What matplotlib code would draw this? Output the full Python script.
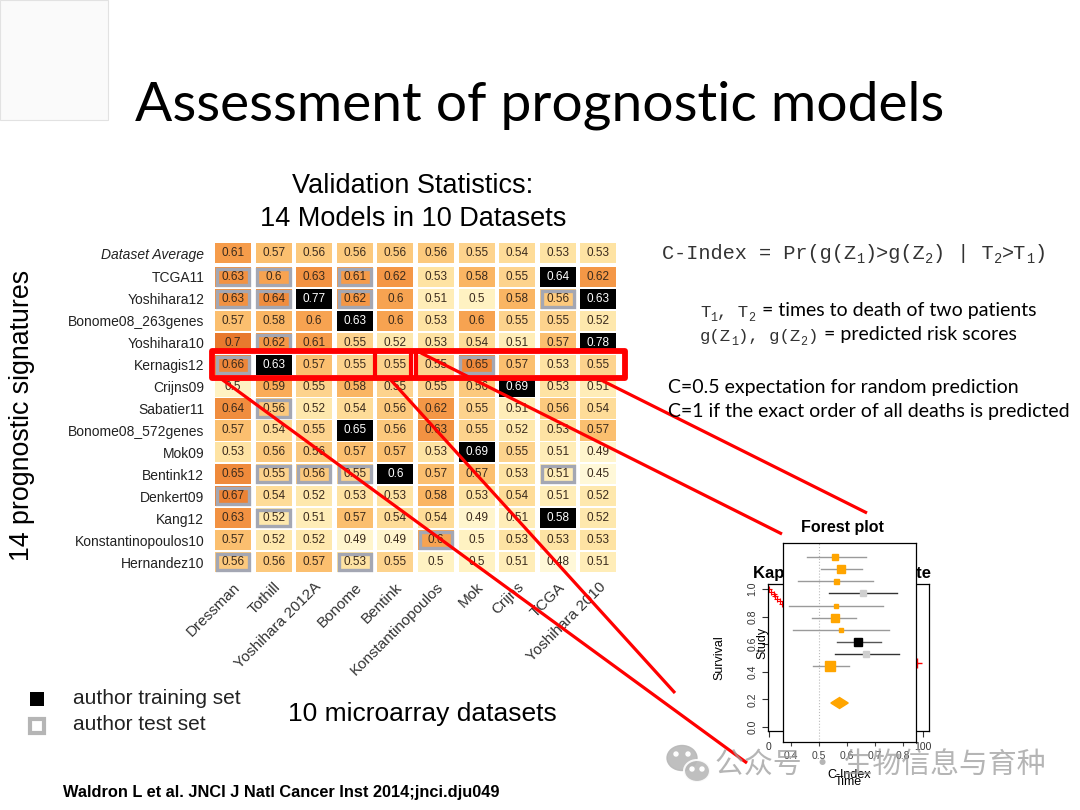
import numpy as np
import matplotlib
matplotlib.use('Agg')
import matplotlib.pyplot as plt
from matplotlib.colors import LinearSegmentedColormap, Normalize
from matplotlib.patches import Rectangle, Polygon, Ellipse

# Tamanho do slide em pixels
W, H = 1080, 810

# Dados do heatmap (colunas = datasets de validacao, linhas = assinaturas)
datasets = ['Dressman', 'Tothill', 'Yoshihara 2012A', 'Bonome', 'Bentink',
            'Konstantinopoulos', 'Mok', 'Crijns', 'TCGA', 'Yoshihara 2010']
signatures = ['TCGA11', 'Yoshihara12', 'Bonome08_263genes', 'Yoshihara10', 'Kernagis12',
              'Crijns09', 'Sabatier11', 'Bonome08_572genes', 'Mok09', 'Bentink12',
              'Denkert09', 'Kang12', 'Konstantinopoulos10', 'Hernandez10']
dataset_average = [0.61, 0.57, 0.56, 0.56, 0.56, 0.56, 0.55, 0.54, 0.53, 0.53]
cindex = [
    [0.63, 0.60, 0.63, 0.61, 0.62, 0.53, 0.58, 0.55, 0.64, 0.62],
    [0.63, 0.64, 0.77, 0.62, 0.60, 0.51, 0.50, 0.58, 0.56, 0.63],
    [0.57, 0.58, 0.60, 0.63, 0.60, 0.53, 0.60, 0.55, 0.55, 0.52],
    [0.70, 0.62, 0.61, 0.55, 0.52, 0.53, 0.54, 0.51, 0.57, 0.78],
    [0.66, 0.63, 0.57, 0.55, 0.55, 0.55, 0.65, 0.57, 0.53, 0.55],
    [0.50, 0.59, 0.55, 0.58, 0.55, 0.55, 0.56, 0.69, 0.53, 0.51],
    [0.64, 0.56, 0.52, 0.54, 0.56, 0.62, 0.55, 0.51, 0.56, 0.54],
    [0.57, 0.54, 0.55, 0.65, 0.56, 0.63, 0.55, 0.52, 0.53, 0.57],
    [0.53, 0.56, 0.56, 0.57, 0.57, 0.53, 0.69, 0.55, 0.51, 0.49],
    [0.65, 0.55, 0.56, 0.55, 0.60, 0.57, 0.57, 0.53, 0.51, 0.45],
    [0.67, 0.54, 0.52, 0.53, 0.53, 0.58, 0.53, 0.54, 0.51, 0.52],
    [0.63, 0.52, 0.51, 0.57, 0.54, 0.54, 0.49, 0.51, 0.58, 0.52],
    [0.57, 0.52, 0.52, 0.49, 0.49, 0.60, 0.50, 0.53, 0.53, 0.53],
    [0.56, 0.56, 0.57, 0.53, 0.55, 0.50, 0.50, 0.51, 0.48, 0.51],
]
# (linha, coluna) das celulas de treino (preto) e teste (borda cinza) dos autores
training_cells = [(0, 8), (1, 2), (1, 9), (2, 3), (3, 9), (4, 1), (5, 7),
                  (7, 3), (8, 6), (9, 4), (11, 8)]
test_cells = [(0, 0), (0, 1), (0, 3), (1, 0), (1, 1), (1, 3), (1, 8), (3, 1),
              (4, 0), (4, 6), (6, 1), (9, 1), (9, 2), (9, 3), (9, 8), (10, 0),
              (11, 1), (12, 5), (13, 0), (13, 3)]

# Dados do forest plot
forest_est = [0.558, 0.579, 0.560, 0.658, 0.561, 0.555, 0.577, 0.640, 0.668, 0.540]
forest_lo = [0.455, 0.505, 0.425, 0.537, 0.393, 0.476, 0.405, 0.563, 0.555, 0.479]
forest_hi = [0.668, 0.654, 0.694, 0.777, 0.727, 0.630, 0.748, 0.721, 0.786, 0.606]
forest_size = [4.5, 6.3, 3.6, 3.8, 2.9, 6.3, 2.7, 5.8, 4.3, 7.2]
forest_kind = ['o', 'o', 'o', 'g', 'o', 'o', 'o', 'k', 'g', 'o']
pooled_est, pooled_lo, pooled_hi = 0.573, 0.542, 0.604

# Curva de Kaplan-Meier (parte visivel)
km_time = [0, 1.5, 3, 4, 5.5, 7, 8.5]
km_surv = [1.0, 0.98, 0.96, 0.95, 0.93, 0.91, 0.89]
km_censor_time = [96]
km_censor_surv = [0.46]

plt.rcParams['font.family'] = ['Liberation Sans', 'DejaVu Sans']

fig = plt.figure(figsize=(W / 100, H / 100), dpi=100)
fig.patch.set_facecolor('white')
renderer = fig.canvas.get_renderer()


def px_axes(x0, y0, x1, y1, **kw):
    # cria eixos a partir de coordenadas em pixels do slide
    return fig.add_axes([x0 / W, 1 - y1 / H, (x1 - x0) / W, (y1 - y0) / H], **kw)


cmap = LinearSegmentedColormap.from_list('cidx', [
    (0.00, '#fff8d8'), (0.09, '#fff2c2'), (0.23, '#fee3a2'), (0.32, '#fdd38c'),
    (0.41, '#fbbf6e'), (0.50, '#f9ab58'), (0.59, '#f69c4a'), (0.73, '#f08d3e'),
    (1.00, '#e8792e')])
norm = Normalize(vmin=0.48, vmax=0.70)


def draw_cells(ax, values, train, test):
    for i, row in enumerate(values):
        for j, v in enumerate(row):
            if (i, j) in train:
                face, tc = 'black', 'white'
            else:
                face, tc = cmap(norm(v)), '#3a2a1c'
            ax.add_patch(Rectangle((j - 0.445, i - 0.46), 0.89, 0.92,
                                   facecolor=face, edgecolor='none'))
            if (i, j) in test:
                ax.add_patch(Rectangle((j - 0.40, i - 0.37), 0.80, 0.74, fill=False,
                                       edgecolor='#a4a7b3', lw=2.4))
            ax.text(j, i, f'{v:g}', ha='center', va='center', fontsize=8.5, color=tc)


# Linha "Dataset Average"
ax_avg = px_axes(212.7, 242, 618.7, 264)
draw_cells(ax_avg, [dataset_average], [], [])
ax_avg.set_xlim(-0.5, 9.5)
ax_avg.set_ylim(0.5, -0.5)
ax_avg.set_xticks([])
ax_avg.set_yticks([0])
ax_avg.set_yticklabels(['Dataset Average'], fontstyle='italic', fontsize=10, color='#222222')
ax_avg.tick_params(length=0, pad=6)
for s in ax_avg.spines.values():
    s.set_visible(False)

# Heatmap principal
ax = px_axes(212.7, 266, 618.7, 573)
draw_cells(ax, cindex, training_cells, test_cells)
ax.set_xlim(-0.5, 9.5)
ax.set_ylim(len(signatures) - 0.5, -0.5)
ax.set_yticks(range(len(signatures)))
ax.set_yticklabels(signatures, fontsize=10, color='#222222')
ax.set_xticks(range(len(datasets)))
ax.set_xticklabels(datasets, rotation=45, ha='right', va='top', rotation_mode='anchor',
                   fontsize=11, color='#333333')
ax.tick_params(length=0, pad=6)
ax.tick_params(axis='x', pad=5)
for s in ax.spines.values():
    s.set_visible(False)

# Kaplan-Meier (atras do forest plot)
km = px_axes(768, 584, 929, 731)
km.step(km_time, km_surv, where='post', color='red', lw=0.8)
km.plot(km_time, km_surv, '+', color='red', ms=5, mew=0.8)
km.plot(km_censor_time, km_censor_surv, '+', color='red', ms=7, mew=1)
km.set_xlim(-0.6, 104.1)
km.set_ylim(-0.03, 1.036)
km.set_xticks([0, 20, 40, 60, 80, 100])
km.set_xticklabels(['0', '', '', '', '', '100'])
km.set_yticks([0, 0.2, 0.4, 0.6, 0.8, 1.0])
km.set_yticklabels(['0.0', '0.2', '0.4', '0.6', '0.8', '1.0'], rotation=90, va='center')
km.tick_params(labelsize=7.5, colors='#333333', length=4, width=0.8)
km.tick_params(axis='x', pad=4)
km.set_ylabel('Survival', fontsize=9, labelpad=16)
km.set_xlabel('Time', fontsize=9, labelpad=17)
km.set_title('Kaplan-Meier Estimate', fontsize=12, fontweight='bold', pad=4, x=0.46)
for s in km.spines.values():
    s.set_linewidth(0.9)

# Forest plot por cima
fp = px_axes(782.7, 543, 916, 742)
fp.set_facecolor('white')
ypos = -np.arange(1, len(forest_est) + 1)
colors = {'o': '#ffa500', 'g': '#cfcfcf', 'k': 'black'}
linecol = {'o': '#9a9a9a', 'g': '#333333', 'k': '#555555'}
fp.axvline(0.5, ls=':', color='#bbbbbb', lw=0.8)
for k in range(len(forest_est)):
    fp.plot([forest_lo[k], forest_hi[k]], [ypos[k], ypos[k]], color=linecol[forest_kind[k]], lw=1)
    fp.plot(forest_est[k], ypos[k], 's', ms=forest_size[k], color=colors[forest_kind[k]], zorder=3)
yd = -13
fp.add_patch(Polygon([(pooled_lo, yd), (pooled_est, yd + 0.45), (pooled_hi, yd), (pooled_est, yd - 0.45)],
                     closed=True, color='#ffa500'))
fp.set_xlim(0.370, 0.846)
fp.set_ylim(-16.2, 0.13)
fp.set_xticks([0.4, 0.5, 0.6, 0.7, 0.8])
fp.set_yticks([])
fp.tick_params(labelsize=7.5, colors='#444444', length=3)
fp.set_xlabel('C-Index', fontsize=9, labelpad=6)
fp.set_ylabel('Study', fontsize=9, labelpad=10)
fp.set_title('Forest plot', fontsize=11.5, fontweight='bold', pad=8, x=0.45)
for s in fp.spines.values():
    s.set_linewidth(0.9)

# Camada de anotacoes em pixels
ov = fig.add_axes([0, 0, 1, 1], zorder=10)
ov.set_xlim(0, W)
ov.set_ylim(H, 0)
ov.axis('off')
ov.patch.set_alpha(0)

ov.add_patch(Rectangle((0, 0), 108, 120, facecolor='#fafafa', edgecolor='#e2e2e2', lw=0.8))

ov.text(540, 120, 'Assessment of prognostic models', ha='center', va='baseline',
        family='Lato', fontsize=39.7, color='black')

ov.text(413, 186, 'Validation Statistics:', ha='center', va='center', fontsize=19.5)
ov.text(413, 219, '14 Models in 10 Datasets', ha='center', va='center', fontsize=19.5)
ov.text(22, 415, '14 prognostic signatures', ha='center', va='center', rotation=90, fontsize=19.3)
ov.text(422, 714, '10 microarray datasets', ha='center', va='center', fontsize=19)

# legenda
ov.add_patch(Rectangle((30, 692), 14, 14, facecolor='black'))
ov.add_patch(Rectangle((30, 719), 14, 14, fill=False, edgecolor='#b5b5b5', lw=3))
ov.text(73, 699, 'author training set', va='center', fontsize=15, color='#222222')
ov.text(73, 725, 'author test set', va='center', fontsize=15, color='#222222')

ov.text(63, 792, 'Waldron L et al. JNCI J Natl Cancer Inst 2014;jnci.dju049', va='center',
        fontsize=11.8, fontweight='bold')

# Texto do C-index: monoespacado com subscritos de verdade
mono = ['Liberation Mono', 'DejaVu Sans Mono']


def mono_line(x, y, s, size):
    # "_" marca o caractere seguinte como subscrito; devolve o x final
    parts, k = [], 0
    while k < len(s):
        if s[k] == '_':
            parts.append((s[k + 1], True))
            k += 2
        else:
            if parts and not parts[-1][1]:
                parts[-1] = (parts[-1][0] + s[k], False)
            else:
                parts.append((s[k], False))
            k += 1
    for txt, sub in parts:
        t = ov.text(x, y + (4 if sub else 0), txt, va='baseline', family=mono,
                    fontsize=size * (0.68 if sub else 1), color='#333333')
        x += t.get_window_extent(renderer).width
    return x


mono_line(662, 259, 'C-Index = Pr(g(Z_1)>g(Z_2) | T_2>T_1)', 14.6)
xe = mono_line(700, 317, 'T_1, T_2', 12.5)
ov.text(xe + 6, 316, '= times to death of two patients', va='baseline', family='Lato', fontsize=14)
xe = mono_line(700, 341, 'g(Z_1), g(Z_2)', 12.5)
ov.text(xe + 6, 340, '= predicted risk scores', va='baseline', family='Lato', fontsize=14)
ov.text(668, 387, 'C=0.5 expectation for random prediction', va='center', family='Lato', fontsize=14)
ov.text(668, 412, 'C=1 if the exact order of all deaths is predicted', va='center', family='Lato',
        fontsize=14)

# Destaque vermelho
ov.add_patch(Rectangle((212, 351), 413, 27, fill=False, edgecolor='red', lw=4.2, joinstyle='round'))
for xv in [375, 411, 416]:
    ov.plot([xv, xv], [351, 378], color='red', lw=3)
red_lines = [((597, 378), (867, 513)), ((417, 351), (782, 534)),
             ((389, 378), (675, 693)), ((220, 378), (747, 763))]
for (x0, y0), (x1, y1) in red_lines:
    ov.plot([x0, x1], [y0, y1], color='red', lw=2.3, solid_capstyle='butt')

# Marca d'agua
ov.add_patch(Ellipse((682, 758), 30, 25, color='#b8b8b8', alpha=0.9))
ov.add_patch(Ellipse((697, 771), 26, 22, facecolor='#b8b8b8', edgecolor='white', lw=1.5, alpha=0.9))
for ex, ey in [(676, 754), (688, 754), (692, 769), (702, 769)]:
    ov.add_patch(Ellipse((ex, ey), 4, 4, color='white'))
ov.text(715, 766, '公众号 · 生物信息与育种', va='center', family=['Noto Sans CJK SC', 'DejaVu Sans'],
        fontsize=20.8, color='#9c9c9c', alpha=0.75)

fig.savefig('out.png', dpi=100)
